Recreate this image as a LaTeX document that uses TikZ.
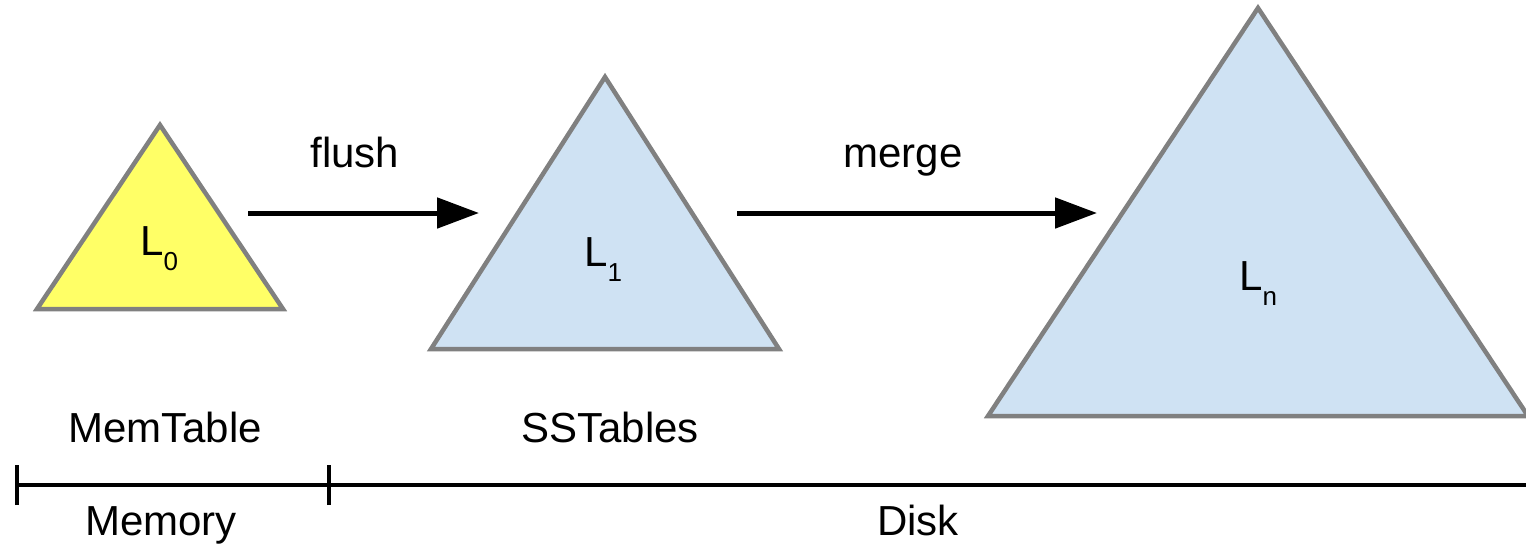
\documentclass[tikz,border=0pt]{standalone}
\usepackage{fontspec}
\setmainfont{Liberation Sans}
\usetikzlibrary{arrows.meta}

\definecolor{memfill}{HTML}{FFFF66}
\definecolor{diskfill}{HTML}{CFE2F3}
\definecolor{edgegray}{HTML}{808080}

\tikzset{
  level/.style={draw=edgegray, line width=4.5pt, line join=miter},
  memlevel/.style={level, fill=memfill},
  disklevel/.style={level, fill=diskfill},
  flow/.style={line width=5pt, -{Triangle[length=42pt,width=30pt]}},
  axisline/.style={line width=4.5pt},
  lbl/.style={inner sep=0pt, anchor=base, font=\fontsize{42}{50}\selectfont},
  lvl/.style={inner sep=0pt, anchor=base west, font=\fontsize{42}{50}\selectfont},
}
\newcommand{\lvlsub}[1]{\raisebox{-15pt}{\fontsize{26}{26}\selectfont #1}}

\begin{document}
\begin{tikzpicture}[x=1pt, y=-1pt]
  \useasboundingbox (0,0) rectangle (1526,544);

  % levels of the tree
  \draw[memlevel]  (160,125) -- (283,309) -- (37,309) -- cycle;
  \draw[disklevel] (605,77) -- (779,349) -- (431,349) -- cycle;
  \draw[disklevel] (1258,8) -- (1528,416) -- (988,416) -- cycle;

  \node[lvl] (l0) at (140,255) {L\lvlsub{0}};
  \node[lvl] (l1) at (584,266) {L\lvlsub{1}};
  \node[lvl] (ln) at (1239,290) {L\lvlsub{n}};

  % flush and merge arrows
  \coordinate (flushA) at (248,213);
  \coordinate (flushB) at (479,213);
  \coordinate (mergeA) at (737,213);
  \coordinate (mergeB) at (1097,213);
  \draw[flow] (flushA) -- (flushB);
  \draw[flow] (mergeA) -- (mergeB);
  \node[lbl] (flush) at (355,167) {flush};
  \node[lbl] (merge) at (903,167) {merge};

  % component names
  \node[lbl] (memtable) at (165,442) {MemTable};
  \node[lbl] (sstables) at (610,442) {SSTables};

  % storage axis
  \coordinate (axL) at (17,485);
  \coordinate (axM) at (329,485);
  \coordinate (axR) at (1530,485);
  \draw[axisline] (axL) -- (axR);
  \draw[axisline] ([yshift=-20pt]axL) -- ([yshift=20pt]axL);
  \draw[axisline] ([yshift=-20pt]axM) -- ([yshift=20pt]axM);
  \node[lbl] (memory) at (161,535) {Memory};
  \node[lbl] (disk) at (918,535) {Disk};
\end{tikzpicture}
\end{document}
